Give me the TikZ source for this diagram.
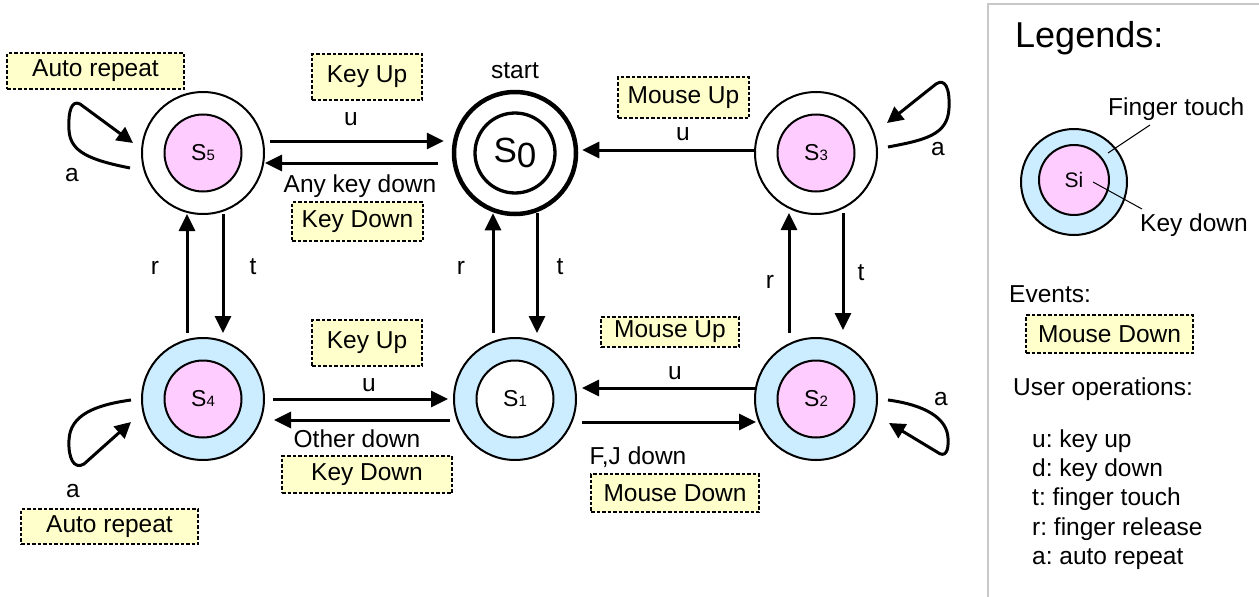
\documentclass[tikz,border=0pt]{standalone}
\usepackage{fontspec}
\setmainfont{Liberation Sans}
\usetikzlibrary{arrows.meta}
\definecolor{statepink}{HTML}{FFCCFF}
\definecolor{stateblue}{HTML}{CCECFF}
\definecolor{eventyellow}{HTML}{FFFFCC}
\definecolor{panelgray}{HTML}{C8C8C8}

\newcommand{\statename}[2]{S{\fontsize{15}{15}\selectfont #2}}
\frenchspacing

\begin{document}
\begin{tikzpicture}[x=1pt,y=-1pt,
  txt/.style={font=\fontsize{24.5}{29}\selectfont, inner sep=0pt, anchor=base},
  ltxt/.style={txt, anchor=base west},
  ring/.style={circle, draw, line width=2pt, minimum size=122pt, inner sep=0pt, fill=white},
  core/.style={circle, draw, line width=2pt, minimum size=77pt, inner sep=0pt, fill=statepink,
    font=\fontsize{23}{23}\selectfont},
  event/.style={draw, dash pattern=on 3.5pt off 2pt, line width=1.3pt, fill=eventyellow,
    inner sep=0pt, font=\fontsize{24.5}{29}\selectfont},
  arr/.style={line width=3pt, -{Triangle[length=17pt,width=16pt]}},
  looparr/.style={line width=3pt, line join=round, -{Triangle[length=16pt,width=16pt]}},
]
\useasboundingbox (0,0) rectangle (1259,597);

% ---------- states ----------
\node[ring] (s5) at (203,153) {};
\node[core] (s5c) at (s5) {\statename{S}{5}};

\node[ring, line width=4.5pt] (s0) at (515,153) {};
\node[circle, draw, line width=3.3pt, minimum size=80pt, inner sep=0pt, fill=white,
  font=\fontsize{35}{35}\selectfont] (s0c) at (s0) {S\raisebox{-5pt}{0}};
\node[txt] (start) at (515,78) {start};

\node[ring] (s3) at (816,153) {};
\node[core] (s3c) at (s3) {\statename{S}{3}};

\node[ring, fill=stateblue] (s4) at (203,399) {};
\node[core] (s4c) at (s4) {\statename{S}{4}};

\node[ring, fill=stateblue] (s1) at (515,399) {};
\node[core, fill=white] (s1c) at (s1) {\statename{S}{1}};

\node[ring, fill=stateblue] (s2) at (816,399) {};
\node[core] (s2c) at (s2) {\statename{S}{2}};

% ---------- horizontal transitions ----------
\draw[arr] ([shift={(5pt,12pt)}]s5.east) -- ([shift={(-8pt,12pt)}]s0.west);
\draw[arr] ([shift={(-14pt,-10pt)}]s0.west) -- ([shift={(0pt,-10pt)}]s5.east);
\draw[arr] ([shift={(1pt,3pt)}]s3.west) -- ([shift={(4pt,3pt)}]s0.east);

\draw[arr] ([shift={(8pt,0pt)}]s4.east) -- ([shift={(-5pt,0pt)}]s1.west);
\draw[arr] ([shift={(-3pt,-21pt)}]s1.west) -- ([shift={(9pt,-21pt)}]s4.east);
\draw[arr] ([shift={(2pt,11pt)}]s2.west) -- ([shift={(5pt,11pt)}]s1.east);
\draw[arr] ([shift={(5pt,-23pt)}]s1.east) -- ([shift={(2pt,-23pt)}]s2.west);

% ---------- vertical transitions ----------
\draw[arr] ([shift={(-16pt,4pt)}]s4.north) -- ([shift={(-16pt,1pt)}]s5.south);
\draw[arr] ([shift={(20pt,1pt)}]s5.south) -- ([shift={(20pt,4pt)}]s4.north);
\draw[arr] ([shift={(-22pt,4pt)}]s1.north) -- ([shift={(-22pt,3pt)}]s0.south);
\draw[arr] ([shift={(22pt,3pt)}]s0.south) -- ([shift={(22pt,4pt)}]s1.north);
\draw[arr] ([shift={(-27pt,4pt)}]s2.north) -- ([shift={(-27pt,2pt)}]s3.south);
\draw[arr] ([shift={(27pt,2pt)}]s3.south) -- ([shift={(27pt,7pt)}]s2.north);

% ---------- auto-repeat loops ----------
\coordinate (l5a) at (130,168); \coordinate (l5b) at (133,143);
\coordinate (l4a) at (131,400); \coordinate (l4b) at (131,422);
\coordinate (l3a) at (888,147); \coordinate (l3b) at (887,123);
\coordinate (l2a) at (888,400); \coordinate (l2b) at (889,423);
\draw[looparr] (l5a) .. controls (90,160) and (70,152) .. (69,130)
  .. controls (68,110) and (72,100) .. (80,104) -- (l5b);
\draw[looparr] (l4a) .. controls (95,405) and (70,415) .. (69,440)
  .. controls (68,458) and (74,470) .. (84,464) -- (l4b);
\draw[looparr] (l3a) .. controls (925,140) and (948,135) .. (949,108)
  .. controls (950,88) and (945,78) .. (936,84) -- (l3b);
\draw[looparr] (l2a) .. controls (925,405) and (947,418) .. (948,438)
  .. controls (949,452) and (945,458) .. (937,452) -- (l2b);

% ---------- transition labels ----------
\node[txt] (lu1) at (351,125) {u};
\node[txt] (lany) at (360,192) {Any key down};
\node[txt] (lu2) at (683,140) {u};
\node[txt] (lu3) at (369,391) {u};
\node[txt] (lother) at (357,447) {Other down};
\node[txt] (lu4) at (675,379) {u};
\node[txt] (lfj) at (638,464) {F,J down};

\node[txt] (lr1) at (155,274) {r};
\node[txt] (lt1) at (253,274) {t};
\node[txt] (lr2) at (461,274) {r};
\node[txt] (lt2) at (560,274) {t};
\node[txt] (lr3) at (770,288) {r};
\node[txt] (lt3) at (861,280) {t};

\node[txt] (la5) at (72,181) {a};
\node[txt] (la4) at (73,497) {a};
\node[txt] (la3) at (938,155) {a};
\node[txt] (la2) at (941,405) {a};

% ---------- event boxes ----------
\node[event, minimum width=177pt, minimum height=36pt] (ar1) at (95.5,71) {Auto repeat};
\node[event, minimum width=110pt, minimum height=46pt] (ku1) at (367,77) {Key Up};
\node[event, minimum width=131pt, minimum height=39pt] (kd1) at (357.5,221.5) {Key Down};
\node[event, minimum width=131pt, minimum height=41pt] (mu1) at (683.5,97.5) {Mouse Up};
\node[event, minimum width=110pt, minimum height=46pt] (ku2) at (367,343) {Key Up};
\node[event, minimum width=170pt, minimum height=37pt] (kd2) at (367,474.5) {Key Down};
\node[event, minimum width=138pt, minimum height=30pt] (mu2) at (670,332) {Mouse Up};
\node[event, minimum width=168pt, minimum height=38pt] (md2) at (675,493) {Mouse Down};
\node[event, minimum width=177pt, minimum height=35pt] (ar2) at (109.5,526.5) {Auto repeat};

% ---------- legend panel ----------
\draw[panelgray, line width=2pt] (1262,4) -- (988,4) -- (988,600);
\node[txt, anchor=base west, font=\fontsize{36}{40}\selectfont] (legtitle) at (1015,47) {Legends:};

\node[circle, draw, line width=2pt, minimum size=106pt, inner sep=0pt, fill=stateblue] (lgring) at (1074,182) {};
\node[circle, draw, line width=2pt, minimum size=70pt, inner sep=0pt, fill=statepink,
  font=\fontsize{21}{21}\selectfont] (lgcore) at (1074,180) {Si};
\node[ltxt] (lgft) at (1108,115) {Finger touch};
\node[ltxt] (lgkd) at (1140,231) {Key down};
\coordinate (ftin) at (1108,153); \coordinate (ftout) at (1150,125);
\coordinate (kdin) at (1093,182); \coordinate (kdout) at (1142,209);
\draw[line width=1pt] (ftin) -- (ftout);
\draw[line width=1pt] (kdin) -- (kdout);

\node[ltxt] (lgev) at (1009,302) {Events:};
\node[event, minimum width=167pt, minimum height=38pt] (lgmd) at (1109.5,334) {Mouse Down};

\node[ltxt] (lgops) at (1013,395) {User operations:};
\node[ltxt] (op1) at (1032,447) {u: key up};
\node[ltxt] (op2) at (1032,476) {d: key down};
\node[ltxt] (op3) at (1032,505) {t: finger touch};
\node[ltxt] (op4) at (1032,535) {r: finger release};
\node[ltxt] (op5) at (1032,564) {a: auto repeat};
\end{tikzpicture}
\end{document}
